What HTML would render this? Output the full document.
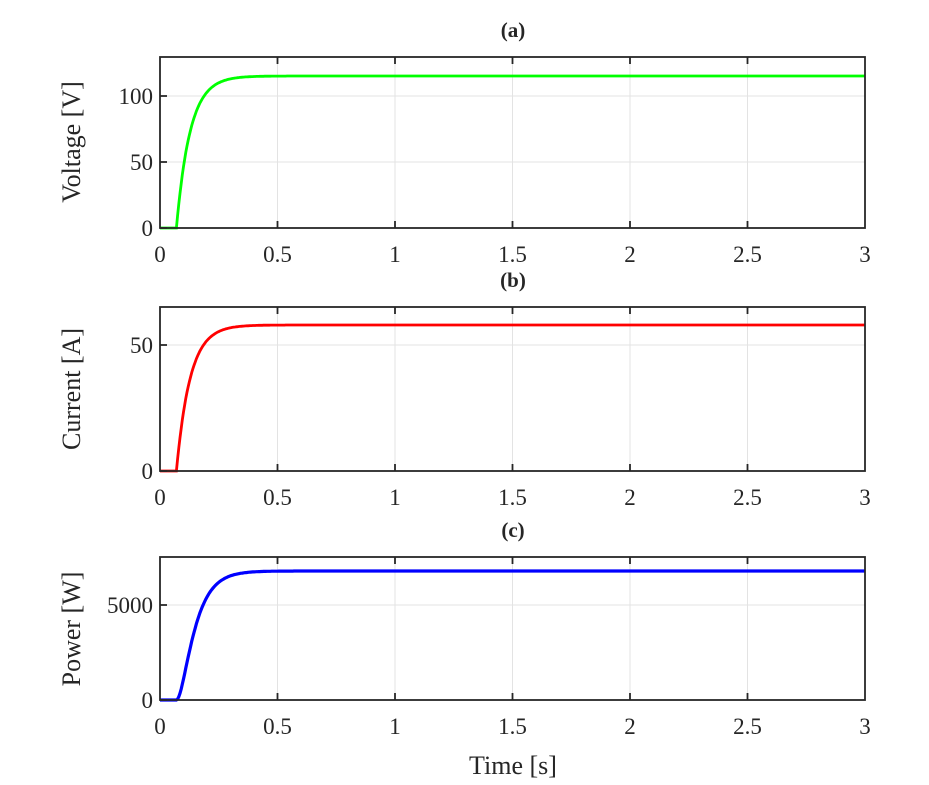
<!DOCTYPE html>
<html><head><meta charset="utf-8"><style>
html,body{margin:0;padding:0;background:#fff}
svg text{font-family:"Liberation Serif",serif;fill:#262626}
</style></head><body>
<svg id="s" width="929" height="780" xmlns="http://www.w3.org/2000/svg">
<text x="513" y="37" font-size="21" font-weight="bold" text-anchor="middle">(a)</text>
<text x="513" y="287" font-size="21" font-weight="bold" text-anchor="middle">(b)</text>
<text x="513" y="537" font-size="21" font-weight="bold" text-anchor="middle">(c)</text>
<text x="513" y="774" font-size="26" text-anchor="middle">Time [s]</text>
<text transform="translate(80,142) rotate(-90)" font-size="26" text-anchor="middle">Voltage [V]</text>
<text transform="translate(80,389) rotate(-90)" font-size="26" text-anchor="middle">Current [A]</text>
<text transform="translate(80,629) rotate(-90)" font-size="26" text-anchor="middle">Power [W]</text>
</svg>
<script>
const s=document.getElementById('s');const NS='http://www.w3.org/2000/svg';
function el(t,a,txt){const e=document.createElementNS(NS,t);for(const k in a)e.setAttribute(k,a[k]);if(txt!==undefined)e.textContent=txt;s.appendChild(e);return e;}
const L=160,R=865;const X=t=>L+(R-L)*t/3;
function panel(top,bot,yt,col,plat,sq){
  for(let t=0.5;t<3;t+=0.5)el('line',{x1:X(t),x2:X(t),y1:top,y2:bot,stroke:'#e3e3e3','stroke-width':1});
  yt.forEach(([v,y])=>{if(y>top+2&&y<bot-2)el('line',{x1:L,x2:R,y1:y,y2:y,stroke:'#e3e3e3','stroke-width':1});});
  let d='';
  for(let i=0;i<=600;i++){const t=3*i/600;let f=t<0.07?0:1-Math.exp(-(t-0.07)/0.058);if(sq)f=f*f;
    const y=bot-plat*f;d+=(i?'L':'M')+X(t).toFixed(1)+','+y.toFixed(1);}
  el('path',{d:d,fill:'none',stroke:col,'stroke-width':sq?3.2:2.8});
  el('rect',{x:L,y:top,width:R-L,height:bot-top,fill:'none',stroke:'#262626','stroke-width':1.8});
  for(let t=0.5;t<3;t+=0.5){el('line',{x1:X(t),x2:X(t),y1:top,y2:top+7,stroke:'#262626','stroke-width':1.8});el('line',{x1:X(t),x2:X(t),y1:bot,y2:bot-7,stroke:'#262626','stroke-width':1.8});}
  yt.forEach(([v,y])=>{el('line',{x1:L,x2:L+7,y1:y,y2:y,stroke:'#262626','stroke-width':1.8});el('text',{x:L-7,y:y+8,'font-size':23,'text-anchor':'end'},v);});
  ['0','0.5','1','1.5','2','2.5','3'].forEach((v,i)=>el('text',{x:X(i*0.5),y:bot+34,'font-size':23,'text-anchor':'middle'},v));
}
panel(57,228,[['0',228],['50',162],['100',96]],'#00ff00',152,false);
panel(307,471,[['0',471],['50',345]],'#ff0000',146,false);
panel(557,700,[['0',700],['5000',605]],'#0000ff',129,true);
</script>
</body></html>
